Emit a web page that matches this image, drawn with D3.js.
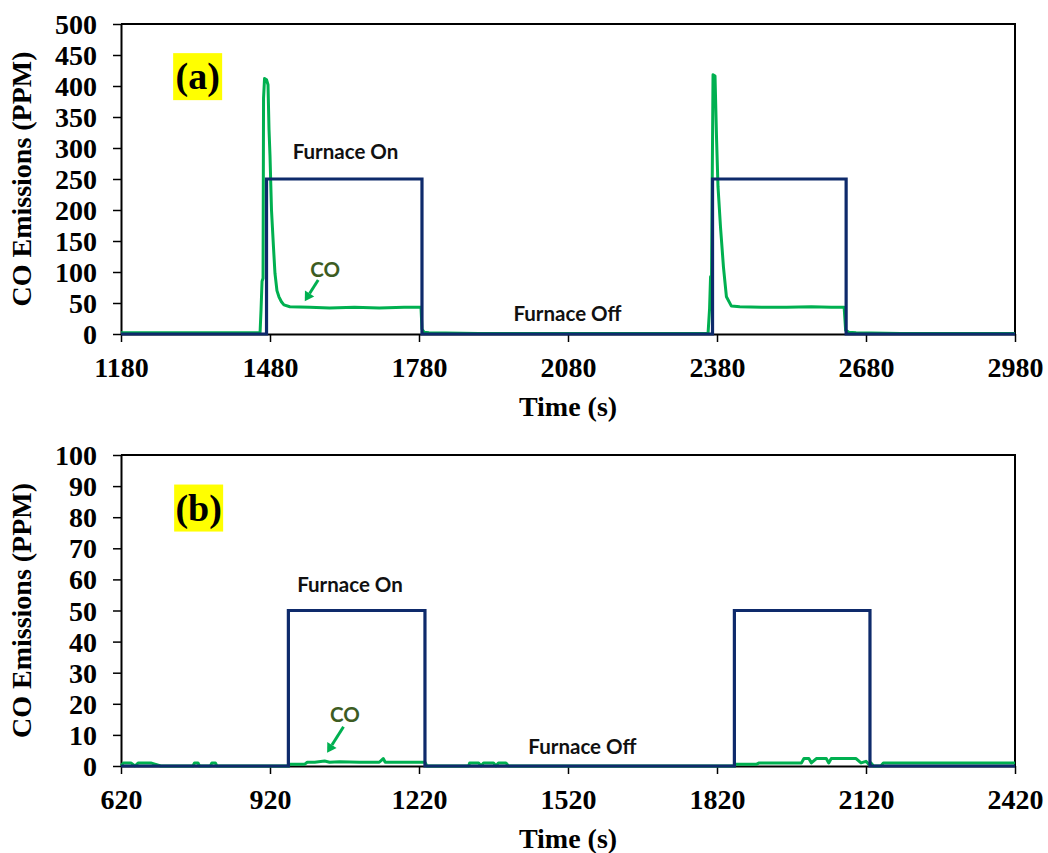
<!DOCTYPE html>
<html>
<head>
<meta charset="utf-8">
<script src="https://cdn.jsdelivr.net/npm/d3@7"></script>
<style>
  body { margin: 0; background: #fff; }
  .tick text { font-family: "Liberation Serif", "Times New Roman", serif; font-weight: bold; font-size: 28px; fill: #000; }
</style>
</head>
<body>
<script>
// panel (a) data : [time (s), value]
var furnaceA = [[1180, 0], [1473, 0], [1473, 250], [1786, 250], [1786, 0], [2371, 0], [2371, 250], [2640, 250], [2640, 0], [2980, 0]];
var coA = [[1180, 2], [1250, 2], [1320, 2], [1400, 2], [1460, 2], [1462, 40], [1464, 85], [1466, 90], [1467, 380],
  [1469, 412], [1473, 410], [1476, 402], [1478, 330], [1480, 288], [1483, 200], [1487, 140], [1490, 98], [1494, 70],
  [1498, 60], [1503, 52], [1508, 47], [1520, 44], [1560, 43], [1600, 42], [1650, 43], [1700, 42], [1750, 43],
  [1784, 43], [1786, 8], [1790, 3], [1800, 2], [1900, 1], [2000, 1], [2100, 1], [2200, 1], [2300, 1], [2362, 1],
  [2365, 40], [2367, 92], [2369, 95], [2372, 418], [2376, 416], [2379, 318], [2382, 238], [2387, 173], [2393, 108],
  [2399, 60], [2409, 45], [2426, 44], [2470, 43], [2520, 43], [2570, 44], [2610, 43], [2636, 43], [2639, 6],
  [2645, 3], [2660, 2], [2750, 1], [2850, 1], [2980, 1]];

// panel (b) data
var furnaceB = [[620, 0], [957, 0], [957, 50], [1232, 50], [1232, 0], [1855, 0], [1855, 50], [2128, 50], [2128, 0], [2420, 0]];
var coB = [[620, 0], [625, 1], [640, 1], [648, 0], [655, 1], [680, 1], [700, 0], [765, 0], [768, 1], [775, 1], [778, 0],
  [800, 0], [803, 1], [810, 1], [813, 0], [957, 0], [960, 0.6], [990, 0.6], [995, 1.2], [1010, 1.2], [1030, 1.6],
  [1040, 1.2], [1060, 1.4], [1100, 1.2], [1140, 1.2], [1148, 2.4], [1152, 1.2], [1200, 1.2], [1232, 1.2], [1236, 0],
  [1320, 0], [1322, 1], [1340, 1], [1345, 0], [1350, 1], [1370, 1], [1375, 0], [1380, 1], [1395, 1], [1400, 0],
  [1855, 0], [1858, 0.6], [1900, 0.6], [1905, 1], [1960, 1], [1990, 1], [1995, 2.4], [2005, 2.4], [2010, 1],
  [2020, 2.4], [2040, 2.4], [2045, 1], [2050, 2.4], [2100, 2.4], [2110, 1], [2120, 1.5], [2126, 0.5], [2130, 1],
  [2135, 0], [2150, 0], [2155, 1], [2200, 1], [2300, 1], [2420, 1]];

var ticksA = [1180, 1480, 1780, 2080, 2380, 2680, 2980];
var ticksB = [620, 920, 1220, 1520, 1820, 2120, 2420];
var yTicksA = [0, 50, 100, 150, 200, 250, 300, 350, 400, 450, 500];
var yTicksB = [0, 10, 20, 30, 40, 50, 60, 70, 80, 90, 100];

var svg = d3.select("body").append("svg")
  .attr("width", 1048)
  .attr("height", 853);

var navy = "#0e2a6b", green = "#00b050", darkGreen = "#3d5c22";

function drawPanel(p) {
  var x = d3.scaleLinear().domain([p.ticks[0], p.ticks[p.ticks.length - 1]]).range([121, 1015]);
  var y = d3.scaleLinear().domain([0, p.yTicks[p.yTicks.length - 1]]).range([p.bottom, p.top]);
  var g = svg.append("g");

  // frame (top + right)
  g.append("path")
    .attr("d", "M" + x.range()[0] + "," + y.range()[1] + "H" + x.range()[1] + "V" + y.range()[0])
    .attr("fill", "none").attr("stroke", "#000").attr("stroke-width", 2);

  var xAxis = g.append("g")
    .attr("transform", "translate(0," + p.bottom + ")")
    .call(d3.axisBottom(x).tickValues(p.ticks).tickFormat(d3.format("d")).tickSize(8).tickPadding(10).tickSizeOuter(0));
  var yAxis = g.append("g")
    .attr("transform", "translate(121,0)")
    .call(d3.axisLeft(y).tickValues(p.yTicks).tickFormat(d3.format("d")).tickSize(8).tickPadding(16).tickSizeOuter(0));
  [xAxis, yAxis].forEach(function (a) {
    a.select(".domain").attr("stroke", "#000").attr("stroke-width", 2);
    a.selectAll(".tick line").attr("stroke", "#000").attr("stroke-width", 1.5);
  });
  xAxis.selectAll(".tick text").attr("dy", "0.9em");
  yAxis.selectAll(".tick text").attr("dy", "0.34em");

  var line = d3.line().x(function (d) { return x(d[0]); }).y(function (d) { return y(d[1]); });

  g.append("path").datum(p.co)
    .attr("d", line).attr("fill", "none")
    .attr("stroke", green).attr("stroke-width", 3).attr("stroke-linejoin", "round");
  g.append("path").datum(p.furnace)
    .attr("d", line).attr("fill", "none")
    .attr("stroke", navy).attr("stroke-width", 3.2);

  // titles
  g.append("text")
    .attr("transform", "translate(31," + (p.top + p.bottom) / 2 + ") rotate(-90)")
    .attr("text-anchor", "middle")
    .style("font-family", "Liberation Serif, serif").style("font-weight", "bold").style("font-size", "28px")
    .text("CO Emissions (PPM)");
  g.append("text")
    .attr("x", 568).attr("y", p.bottom + 82)
    .attr("text-anchor", "middle")
    .style("font-family", "Liberation Serif, serif").style("font-weight", "bold").style("font-size", "28px")
    .text("Time (s)");

  // panel letter
  var lx = x(p.letterAt[0]), ly = y(p.letterAt[1]);
  g.append("rect").attr("x", lx).attr("y", ly).attr("width", 49).attr("height", 47).attr("fill", "#ffff00");
  g.append("text")
    .attr("x", lx + 24.5).attr("y", ly + 36)
    .attr("text-anchor", "middle")
    .style("font-family", "Liberation Serif, serif").style("font-weight", "bold").style("font-size", "38px")
    .text(p.letter);

  // annotations
  function note(txt, at, col) {
    g.append("text")
      .attr("x", x(at[0])).attr("y", y(at[1]))
      .attr("text-anchor", "middle")
      .style("font-family", "Lato, 'Open Sans', sans-serif").style("font-weight", "bold").style("font-size", "20.5px")
      .attr("fill", col)
      .text(txt);
  }
  note("Furnace On", p.onAt, "#111");
  note("Furnace Off", p.offAt, "#111");
  note("CO", p.coAt, darkGreen);

  var x1 = x(p.arrow[0][0]), y1 = y(p.arrow[0][1]), x2 = x(p.arrow[1][0]), y2 = y(p.arrow[1][1]);
  var ang = Math.atan2(y2 - y1, x2 - x1), hl = 9, hw = 5.5;
  var bx = x2 - hl * Math.cos(ang), by = y2 - hl * Math.sin(ang);
  g.append("line").attr("x1", x1).attr("y1", y1).attr("x2", bx).attr("y2", by)
    .attr("stroke", green).attr("stroke-width", 3);
  g.append("path")
    .attr("d", "M" + x2 + "," + y2 +
      "L" + (bx + hw * Math.sin(ang)) + "," + (by - hw * Math.cos(ang)) +
      "L" + (bx - hw * Math.sin(ang)) + "," + (by + hw * Math.cos(ang)) + "Z")
    .attr("fill", green);
}

drawPanel({
  top: 24, bottom: 334, ticks: ticksA, yTicks: yTicksA, furnace: furnaceA, co: coA,
  letter: "(a)", letterAt: [1285, 453],
  onAt: [1632, 282], offAt: [2079, 21], coAt: [1591, 92],
  arrow: [[1577, 87], [1550, 53]]
});
drawPanel({
  top: 455, bottom: 766, ticks: ticksB, yTicks: yTicksB, furnace: furnaceB, co: coB,
  letter: "(b)", letterAt: [727, 90.5],
  onAt: [1081, 56], offAt: [1549, 3.8], coAt: [1071, 14.2],
  arrow: [[1068, 12.6], [1035, 4.3]]
});
</script>
</body>
</html>
